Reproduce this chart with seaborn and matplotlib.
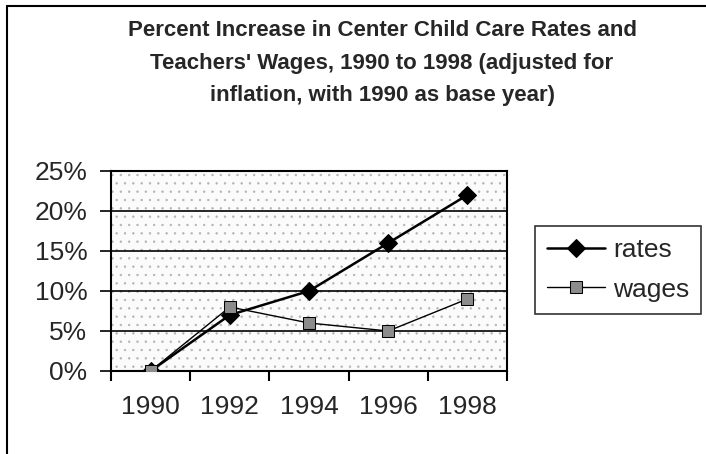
import matplotlib
matplotlib.use("Agg")
import matplotlib.pyplot as plt
import seaborn as sns
from matplotlib.lines import Line2D
from matplotlib.patches import Rectangle
from matplotlib.ticker import FixedLocator

years = ["1990", "1992", "1994", "1996", "1998"]
rates = [0, 7, 10, 16, 22]
wages = [0, 8, 6, 5, 9]
y_ticks = [0, 5, 10, 15, 20, 25]
y_labels = ["0%", "5%", "10%", "15%", "20%", "25%"]
title_lines = [
    "Percent Increase in Center Child Care Rates and",
    "Teachers' Wages, 1990 to 1998 (adjusted for",
    "inflation, with 1990 as base year)",
]

sns.set_theme(style="white")
plt.rcParams["font.family"] = ["Liberation Sans", "DejaVu Sans"]
plt.rcParams["hatch.linewidth"] = 0.5
plt.rcParams["hatch.color"] = "#b4b4b4"

W, H = 706, 454
fig = plt.figure(figsize=(W / 100, H / 100), dpi=100)
ax = fig.add_axes([111 / W, (H - 371) / H, 396 / W, 200 / H])

# stippled background
ax.set_facecolor("white")
ax.add_patch(Rectangle((0, 0), 1, 1, transform=ax.transAxes, facecolor="#fbfbfb",
                       edgecolor="#b4b4b4", hatch="..", lw=0, zorder=0))

for v in y_ticks[1:-1]:
    ax.axhline(v, color="black", lw=1.2, zorder=1)

sns.lineplot(x=years, y=rates, ax=ax, color="black", lw=1.8, marker="D",
             markersize=9, markeredgecolor="black", label="rates", zorder=3)
sns.lineplot(x=years, y=wages, ax=ax, color="black", lw=1.0, marker="s",
             markersize=9, markerfacecolor="#8c8c8c", markeredgecolor="black",
             label="wages", zorder=4)

ax.set_xlim(-0.5, 4.5)
ax.set_ylim(0, 25)
ax.set_yticks(y_ticks)
ax.set_yticklabels(y_labels)
ax.set_xlabel("")
ax.set_ylabel("")
ax.xaxis.set_minor_locator(FixedLocator([-0.5, 0.5, 1.5, 2.5, 3.5, 4.5]))
ax.tick_params(axis="x", which="major", length=0, pad=17, labelsize=19)
ax.tick_params(axis="x", which="minor", length=7, width=1.5, color="black",
               direction="out", bottom=True)
ax.tick_params(axis="y", which="major", length=8, width=1.2, color="black",
               direction="out", left=True, pad=9, labelsize=19)
for s in ax.spines.values():
    s.set_visible(True)
    s.set_color("black")
    s.set_linewidth(1.5)

leg = ax.legend(loc="upper left", bbox_to_anchor=(535 / W, (H - 226) / H),
                bbox_transform=fig.transFigure, frameon=True, fancybox=False,
                shadow=False, fontsize=19, handlelength=2.2, handletextpad=0.3,
                labelspacing=0.6, borderpad=0.45, borderaxespad=0)
leg.get_frame().set_edgecolor("black")
leg.get_frame().set_linewidth(1.2)

for t, yy in zip(title_lines, [30, 63, 95]):
    fig.text(382 / W, 1 - yy / H, t, ha="center", va="center",
             fontsize=16, fontweight="bold")

# outer frame
fig.add_artist(Line2D([7 / W, 7 / W], [0, 1 - 6 / H], transform=fig.transFigure,
                      color="black", lw=1.5))
fig.add_artist(Line2D([7 / W, 1], [1 - 6 / H, 1 - 6 / H], transform=fig.transFigure,
                      color="black", lw=1.5))

fig.savefig("out.png", dpi=100)
